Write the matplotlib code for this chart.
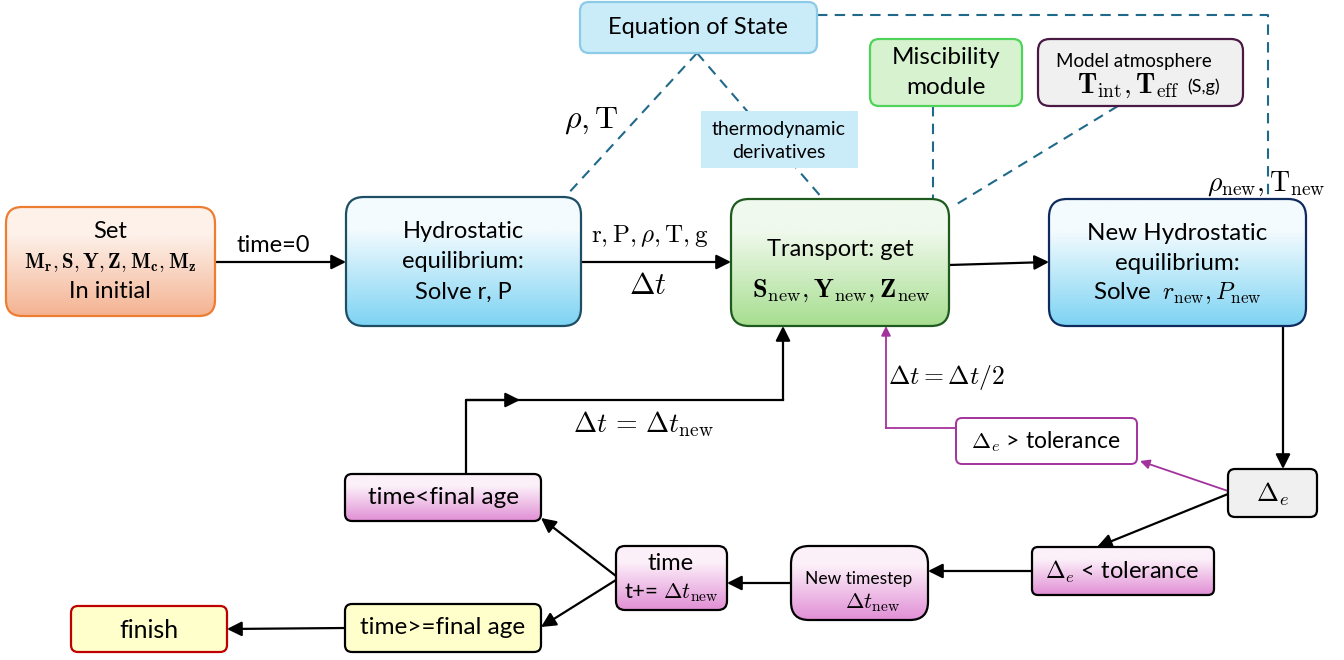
import numpy as np
import matplotlib
matplotlib.use('Agg')
import matplotlib.pyplot as plt
from matplotlib.patches import FancyBboxPatch, FancyArrowPatch
from matplotlib.colors import to_rgb

plt.rcParams['font.family'] = ['Lato', 'DejaVu Sans']
plt.rcParams['mathtext.fontset'] = 'cm'

# texts of the flow chart
init_text = ["Set", r"$\mathbf{M_r}, \mathbf{S}, \mathbf{Y}, \mathbf{Z}, \mathbf{M_c}, \mathbf{M_z}$", "In initial"]
hydro_text = ["Hydrostatic", "equilibrium:", "Solve r, P"]
transport_text = ["Transport: get", r"$\mathbf{S}_{\rm new}, \mathbf{Y}_{\rm new}, \mathbf{Z}_{\rm new}$"]
newhydro_text = ["New Hydrostatic", "equilibrium:", r"Solve  $r_{\rm new}, P_{\rm new}$"]
eos_text = "Equation of State"
misc_text = ["Miscibility", "module"]
atm_text = ["Model atmosphere", r"$\mathbf{T}_{\rm int}, \mathbf{T}_{\rm eff}$", "(S,g)"]
thermo_text = ["thermodynamic", "derivatives"]
delta_text = r"$\Delta_e$"
gt_text = r"$\Delta_e$ > tolerance"
lt_text = r"$\Delta_e$ < tolerance"
step_text = ["New timestep", r"$\Delta t_{\rm new}$"]
time_text = ["time", r"t+= $\Delta t_{\rm new}$"]
less_text = "time<final age"
geq_text = "time>=final age"
finish_text = "finish"
edge_labels = {
    "t0": "time=0",
    "vars": r"$\mathrm{r}, \mathrm{P}, \rho, \mathrm{T}, \mathrm{g}$",
    "dt": r"$\Delta t$",
    "rhoT": r"$\rho, \mathrm{T}$",
    "rhoTnew": r"$\rho_{\rm new}, \mathrm{T}_{\rm new}$",
    "half": r"$\Delta t = \Delta t/2$",
    "dtnew": r"$\Delta t\, =\, \Delta t_{\rm new}$",
}

W, H = 1344, 660
fig = plt.figure(figsize=(W / 100, H / 100), dpi=100)
ax = fig.add_axes([0, 0, 1, 1])
ax.set_xlim(0, W)
ax.set_ylim(H, 0)
ax.axis('off')


def box(x0, y0, x1, y1, edge, fill=None, grad=None, r=14, lw=1.6, z=3):
    p = FancyBboxPatch((x0, y0), x1 - x0, y1 - y0,
                       boxstyle=f"round,pad=0,rounding_size={r}",
                       fc=fill if fill else 'none', ec=edge, lw=lw, zorder=z)
    ax.add_patch(p)
    if grad is not None:
        c0, c1 = np.array(to_rgb(grad[0])), np.array(to_rgb(grad[1]))
        t = np.linspace(0, 1, 100)[:, None]
        t = np.clip((t - 0.25) / 0.75, 0, 1)
        img = (c0 * (1 - t) + c1 * t)[:, None, :]
        im = ax.imshow(img, extent=(x0, x1, y1, y0), origin='upper',
                       aspect='auto', zorder=z - 0.5, interpolation='bilinear')
        im.set_clip_path(p)
    return p


def arrow(pts, color='black', lw=1.6, head=True, ms=22):
    xs = [p[0] for p in pts]
    ys = [p[1] for p in pts]
    if len(pts) > 2:
        ax.plot(xs[:-1], ys[:-1], color=color, lw=lw, zorder=2,
                solid_joinstyle='miter')
    style = '-|>' if head else '-'
    a = FancyArrowPatch(pts[-2], pts[-1], arrowstyle=style, mutation_scale=ms,
                        color=color, lw=lw, zorder=2, shrinkA=0, shrinkB=0)
    ax.add_patch(a)


def dashed(pts, color='#1f6a8a'):
    ax.plot([p[0] for p in pts], [p[1] for p in pts], color=color, lw=1.5,
            ls=(0, (5, 3.5)), zorder=1)


def label(x, y, s, size, z=5, **kw):
    kw.setdefault('ha', 'center')
    ax.text(x, y, s, va='center', fontsize=size, zorder=z, **kw)


# dashed connections to the modules
dashed([(697, 53), (565, 197)])
dashed([(697, 53), (823, 199)])
dashed([(933, 106), (933, 199)])
dashed([(1118, 106), (952, 207)])
dashed([(817, 15), (1268, 15), (1268, 199)])

# solid flow
arrow([(215, 262), (346, 262)])
arrow([(581, 262), (731, 262)])
arrow([(949, 265), (1049, 262)])
arrow([(1283, 326), (1283, 469)])
arrow([(1228, 494), (1097, 547)])
arrow([(1032, 571), (928, 571)])
arrow([(791, 583), (727, 583)])
arrow([(616, 576), (541, 518)])
arrow([(616, 580), (541, 627)])
arrow([(345, 628), (227, 629)])
# return loop with the new timestep
ax.plot([466, 466, 783], [474, 400, 400], color='black', lw=1.6, zorder=2)
arrow([(466, 400), (520, 400)])
arrow([(783, 400), (783, 326)])

# purple retry loop
pur = '#a3339c'
arrow([(1228, 491), (1140, 461)], color=pur, lw=1.3, ms=14)
arrow([(956, 428), (886, 428), (886, 326)], color=pur, lw=1.3, ms=14)

# boxes
box(6, 207, 215, 316, '#ed7d31', grad=('#fdf1ea', '#f4b392'), r=16)
label(110, 231, init_text[0], 17)
label(110, 263, init_text[1], 15)
label(110, 292, init_text[2], 17)

box(346, 197, 581, 326, '#1d4e63', grad=('#f3fbfe', '#7dd3f3'), r=18)
for y, s in zip([232, 262, 292], hydro_text):
    label(463, y, s, 17)

box(731, 199, 949, 326, '#1e5a1e', grad=('#f0f9ed', '#a7de90'), r=18)
label(840, 249, transport_text[0], 17)
label(841, 291, transport_text[1], 19)

box(1049, 199, 1306, 326, '#0f2b5e', grad=('#f3fbfe', '#7dd3f3'), r=18)
label(1177, 234, newhydro_text[0], 17.4)
label(1177, 264, newhydro_text[1], 17.4)
label(1177, 293, newhydro_text[2], 17.4)

box(580, 2, 817, 53, '#8ccbe8', fill='#caecf9', r=9)
label(698, 27, eos_text, 17)

box(870, 39, 1022, 106, '#4fd35a', fill='#d7f2cf', r=9)
label(946, 58, misc_text[0], 17.5)
label(946, 88, misc_text[1], 17.5)

box(1038, 39, 1243, 106, '#4a1a45', fill='#f0f0f0', r=12)
label(1134, 62, atm_text[0], 13.5)
label(1128, 86, atm_text[1], 20)
label(1204, 87, atm_text[2], 13)

ax.add_patch(plt.Rectangle((701, 111), 157, 57, fc='#caecf9', ec='none', zorder=3))
label(779, 129, thermo_text[0], 14)
label(779, 152, thermo_text[1], 14)

box(1228, 469, 1317, 517, 'black', fill='#f0f0f0', r=7)
label(1273, 494, delta_text, 19)

box(956, 418, 1137, 464, pur, fill='white', r=6, lw=1.4)
label(1046, 442, gt_text, 16.5)

pink = ('#fcf0f9', '#e18fd5')
box(1032, 547, 1214, 595, 'black', grad=pink, r=6)
label(1122, 572, lt_text, 17)

box(791, 546, 928, 620, 'black', grad=pink, r=18)
label(859, 579, step_text[0], 12.5)
label(872, 603, step_text[1], 16)

box(616, 546, 727, 610, 'black', grad=pink, r=9)
label(671, 563, time_text[0], 17)
label(671, 593, time_text[1], 16)

box(345, 474, 541, 521, 'black', grad=pink, r=7)
label(443, 497, less_text, 17.5)

box(345, 604, 541, 652, 'black', fill='#ffffcc', r=7)
label(443, 628, geq_text, 17.5)

box(71, 606, 227, 652, '#c00000', fill='#ffffcc', r=7)
label(149, 630, finish_text, 18)

# edge labels
label(273, 246, edge_labels["t0"], 17)
label(650, 236, edge_labels["vars"], 18)
label(648, 285, edge_labels["dt"], 22)
label(591, 121, edge_labels["rhoT"], 23)
label(1266, 184, edge_labels["rhoTnew"], 20, z=6)
label(888, 378, edge_labels["half"], 18.5, ha='left')
label(643, 424, edge_labels["dtnew"], 20)

fig.savefig('out.png', dpi=100)
